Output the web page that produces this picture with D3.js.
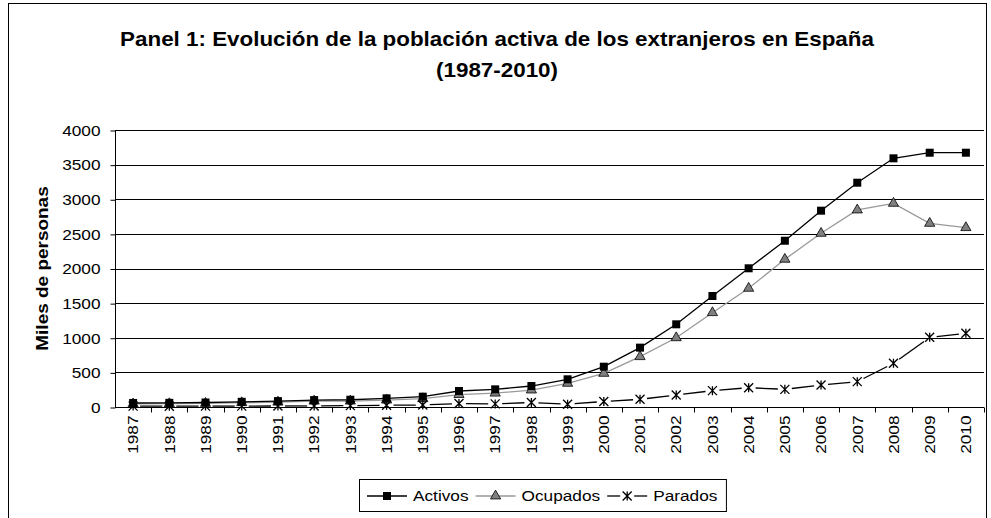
<!DOCTYPE html>
<html lang="es">
<head>
<meta charset="UTF-8">
<title>Panel 1</title>
<script src="https://cdn.jsdelivr.net/npm/d3@7"></script>
<style>
  * { margin: 0; padding: 0; }
  body { background: #fff; }
  svg { display: block; font-family: "Liberation Sans", Arial, sans-serif; }
</style>
</head>
<body>
<svg></svg>
<script>
  // datos (miles de personas)
  const years = ['1987','1988','1989','1990','1991','1992','1993','1994','1995','1996','1997','1998',
                 '1999','2000','2001','2002','2003','2004','2005','2006','2007','2008','2009','2010']
  const activos = [58, 60, 65, 75, 85, 100, 105, 125, 149, 231, 255, 303,
                   400, 582, 857, 1194, 1603, 2003, 2401, 2835, 3239, 3591, 3672, 3672]
  const ocupados = [45, 48, 52, 62, 70, 85, 85, 100, 120, 180, 200, 245,
                    342, 486, 727, 1000, 1362, 1714, 2133, 2508, 2845, 2941, 2652, 2590]
  const parados = [13, 12, 13, 13, 15, 15, 20, 25, 29, 50, 45, 65,
                   40, 80, 111, 173, 236, 279, 255, 318, 366, 631, 1006, 1064]
  const yTicks = [0, 500, 1000, 1500, 2000, 2500, 3000, 3500, 4000]

  const W = 991, H = 518
  const SX = 1.15   // el original esta estirado en horizontal
  const svg = d3.select('svg').attr('width', W).attr('height', H)

  // marco exterior
  svg.append('rect').attr('x', 8.5).attr('y', 3.5).attr('width', 978).attr('height', 530)
    .attr('fill', 'none').attr('stroke', '#000').attr('stroke-width', 1)

  // titulo
  svg.append('text').attr('text-anchor', 'middle').attr('font-weight', 'bold').attr('font-size', '20px')
    .attr('transform', `translate(497,46) scale(1.12,1)`)
    .text('Panel 1: Evolución de la población activa de los extranjeros en España')
  svg.append('text').attr('text-anchor', 'middle').attr('font-weight', 'bold').attr('font-size', '20px')
    .attr('transform', `translate(497,77) scale(1.12,1)`)
    .text('(1987-2010)')

  const pLeft = 115, pRight = 984, pTop = 130, pBottom = 407
  const x = d3.scaleBand().domain(years).range([pLeft, pRight])
  const y = d3.scaleLinear().domain([0, 4000]).range([pBottom, pTop])
  const cx = d => x(d) + x.bandwidth() / 2

  // lineas de rejilla
  svg.append('g').selectAll('line').data(yTicks.slice(1)).join('line')
    .attr('x1', pLeft).attr('x2', pRight)
    .attr('y1', d => Math.round(y(d)) + 0.5).attr('y2', d => Math.round(y(d)) + 0.5)
    .attr('stroke', '#000').attr('stroke-width', 1)

  // eje y
  const yAxis = svg.append('g').attr('transform', `translate(${pLeft + 0.5},0.5)`)
    .call(d3.axisLeft(y).tickValues(yTicks).tickSize(5).tickFormat(d3.format('d')))
  yAxis.select('.domain').attr('stroke', '#000').attr('d', `M0,${pTop}V${pBottom}`)
  yAxis.selectAll('.tick text').attr('font-size', '15px').attr('fill', '#000')
    .attr('font-family', '"Liberation Sans", Arial, sans-serif')
    .attr('x', 0).attr('transform', `translate(-15,0) scale(${SX},1)`)

  // eje x
  const xAxis = svg.append('g').attr('transform', `translate(0,${pBottom + 0.5})`)
    .call(d3.axisBottom(x).tickSize(0))
  xAxis.select('.domain').attr('stroke', '#000').attr('d', `M${pLeft},0H${pRight}`)
  xAxis.selectAll('.tick text').attr('font-size', '15px').attr('fill', '#000')
    .attr('font-family', '"Liberation Sans", Arial, sans-serif')
    .attr('transform', `translate(0,8) rotate(-90) scale(${SX},1)`).attr('text-anchor', 'end')
    .attr('dy', '0.35em').attr('x', 0).attr('y', 0)
  // marcas entre categorias
  xAxis.append('g').selectAll('line').data(years).join('line')
    .attr('x1', d => Math.round(x(d) + x.bandwidth()) + 0.5)
    .attr('x2', d => Math.round(x(d) + x.bandwidth()) + 0.5)
    .attr('y1', 0).attr('y2', 5).attr('stroke', '#000')

  // titulo eje y
  svg.append('text').attr('transform', `translate(48,${(pTop + pBottom) / 2}) rotate(-90) scale(${SX},1)`)
    .attr('text-anchor', 'middle').attr('font-weight', 'bold').attr('font-size', '16.5px')
    .text('Miles de personas')

  const line = d3.line().x((d, i) => cx(years[i])).y(d => y(d))

  // Ocupados
  svg.append('path').datum(ocupados).attr('d', line)
    .attr('fill', 'none').attr('stroke', '#999').attr('stroke-width', 1.3)
  // Activos
  svg.append('path').datum(activos).attr('d', line)
    .attr('fill', 'none').attr('stroke', '#000').attr('stroke-width', 1.3)

  // Parados: segmentos cortados junto a los marcadores
  const gap = 7
  const segs = d3.pairs(parados.map((v, i) => [cx(years[i]), y(v)]))
  svg.append('g').selectAll('line').data(segs).join('line')
    .each(function (d) {
      const [a, b] = d
      const dx = b[0] - a[0], dy = b[1] - a[1], len = Math.hypot(dx, dy)
      const ux = dx / len, uy = dy / len
      d3.select(this)
        .attr('x1', a[0] + ux * gap).attr('y1', a[1] + uy * gap)
        .attr('x2', b[0] - ux * gap).attr('y2', b[1] - uy * gap)
    })
    .attr('stroke', '#000').attr('stroke-width', 1.3)

  const tri = d3.symbol().type(d3.symbolTriangle).size(45)

  function square(g, px, py) {
    g.append('rect').attr('x', px - 4).attr('y', py - 4).attr('width', 8).attr('height', 8).attr('fill', '#000')
  }
  function triangle(g, px, py) {
    g.append('path').attr('d', tri).attr('transform', `translate(${px},${py})`)
      .attr('fill', '#808080').attr('stroke', '#000').attr('stroke-width', 0.8)
  }
  function star(g, px, py) {
    const s = 4.5
    g.append('path').attr('d', `M${px - s},${py - s}L${px + s},${py + s}M${px - s},${py + s}L${px + s},${py - s}M${px},${py - s}L${px},${py + s}`)
      .attr('stroke', '#000').attr('stroke-width', 1.3).attr('fill', 'none')
  }

  const mk = svg.append('g')
  ocupados.forEach((v, i) => triangle(mk, cx(years[i]), y(v)))
  activos.forEach((v, i) => square(mk, cx(years[i]), y(v)))
  parados.forEach((v, i) => star(mk, cx(years[i]), y(v)))

  // leyenda
  const lg = svg.append('g')
  const box = lg.append('rect').attr('x', 359.5).attr('y', 479.5).attr('height', 32)
    .attr('fill', '#fff').attr('stroke', '#000')
  const ly = 496
  const items = [
    { name: 'Activos', color: '#000', mark: square, broken: false },
    { name: 'Ocupados', color: '#999', mark: triangle, broken: false },
    { name: 'Parados', color: '#000', mark: star, broken: true }
  ]
  let cur = 367
  items.forEach(it => {
    if (it.broken) {
      lg.append('line').attr('x1', cur).attr('x2', cur + 13).attr('y1', ly).attr('y2', ly).attr('stroke', it.color).attr('stroke-width', 1.3)
      lg.append('line').attr('x1', cur + 27).attr('x2', cur + 40).attr('y1', ly).attr('y2', ly).attr('stroke', it.color).attr('stroke-width', 1.3)
    } else {
      lg.append('line').attr('x1', cur).attr('x2', cur + 40).attr('y1', ly).attr('y2', ly).attr('stroke', it.color).attr('stroke-width', 1.3)
    }
    it.mark(lg, cur + 20, ly)
    const t = lg.append('text').attr('transform', `translate(${cur + 46},${ly}) scale(${SX},1)`).attr('dy', '0.35em')
      .attr('font-size', '15px').text(it.name)
    cur = cur + 46 + t.node().getComputedTextLength() * SX + 7
  })
  box.attr('width', cur + 2 - 359.5)
</script>
</body>
</html>
